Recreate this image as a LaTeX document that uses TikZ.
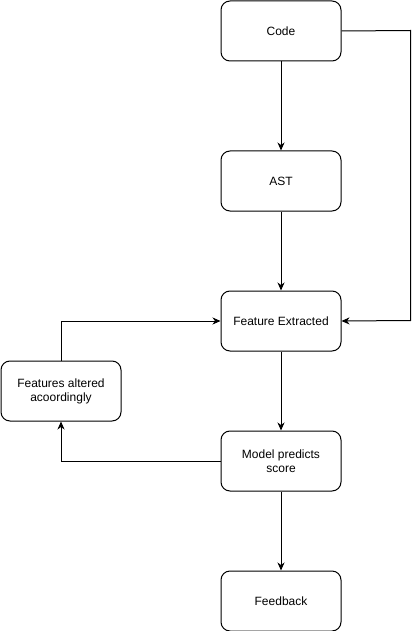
\documentclass[tikz,border=0pt]{standalone}
\usepackage{fontspec}
\setmainfont{Liberation Sans}
\usetikzlibrary{arrows.meta}
\begin{document}
\begin{tikzpicture}[x=1pt,y=-1pt,
  box/.style={draw=black,line width=1pt,rounded corners=9pt,minimum width=120pt,minimum height=60pt,inner sep=0pt,align=center,font=\fontsize{12}{14}\selectfont,anchor=north west},
  conn/.style={line width=1pt,-{Stealth[length=8pt,width=7pt,inset=2.5pt]}}]
\useasboundingbox[fill=white] (0,0) rectangle (419,631);
\node[box] (code) at (220.5,0.5) {Code};
\node[box] (ast) at (220.5,150.5) {AST};
\node[box] (feat) at (220.5,290.5) {Feature Extracted};
\node[box] (alt) at (0.5,360.5) {Features altered\\acoordingly};
\node[box] (model) at (220.5,430.5) {Model predicts\\score};
\node[box] (fb) at (220.5,570.5) {Feedback};
\draw[conn] (code) -- (ast);
\draw[conn] (ast) -- (feat);
\draw[conn] (feat) -- (model);
\draw[conn] (model) -- (fb);
\coordinate (r1) at (410.5,30.5);
\coordinate (r2) at (410.5,320.5);
\draw[conn] (code.east) -- (r1) -- (r2) -- (feat.east);
\draw[conn] (model.west) -| (alt.south);
\draw[conn] (alt.north) |- (feat.west);
\end{tikzpicture}
\end{document}
